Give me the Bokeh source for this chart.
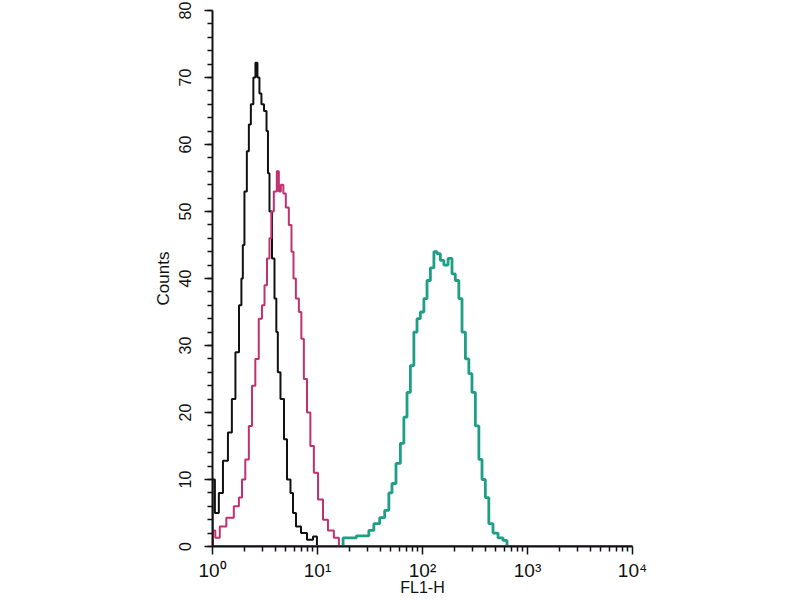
from bokeh.plotting import figure
from bokeh.models import FixedTicker
from bokeh.embed import file_html
from bokeh.resources import INLINE

# FL1-H channel intensity and counts
black_fl1 = [1.0, 1.0, 1.11, 1.19, 1.33, 1.48, 1.58, 1.73, 1.85, 1.92, 1.97, 2.06,
             2.19, 2.25, 2.39, 2.51, 2.62, 2.74, 2.86, 2.99, 3.20, 3.34, 3.41,
             3.57, 3.81, 3.98, 4.13, 4.25, 4.64, 4.96, 5.29, 5.78, 5.91, 6.59,
             7.36, 8.58, 9.57, 10.2, 10000]
black_counts = [0, 10, 5, 8, 12.8, 17, 22, 29, 36, 40, 45, 53,
                59, 63, 66, 70, 72.2, 70, 67.6, 66, 65, 62, 55.7,
                50, 43, 37, 32, 26, 22, 16, 10, 8, 5, 3,
                2, 1, 1.5, 0, 0]

magenta_fl1 = [1.0, 1.02, 1.11, 1.24, 1.48, 1.72, 1.85, 1.97, 2.14, 2.30, 2.46,
               2.66, 2.86, 3.06, 3.20, 3.41, 3.57, 3.70, 3.98, 4.22, 4.35, 4.61,
               4.85, 5.14, 5.53, 5.78, 6.04, 6.41, 6.89, 7.15, 7.69, 8.21, 8.91,
               9.57, 10.7, 11.9, 13.3, 15.4, 16.6, 10000]
magenta_counts = [0, 2.4, 1.3, 3, 4.3, 6, 7.3, 10, 13, 18, 24,
                  28, 34, 36, 39, 43, 46, 50, 53, 56, 53, 54,
                  52.7, 50.6, 48, 44, 40, 37, 35, 31, 25, 20, 15,
                  11, 7, 4, 2.4, 1.3, 0, 0]

teal_fl1 = [1.0, 16.6, 18.5, 29.7, 32.0, 37.0, 41.3, 46.1, 49.6, 52.9, 59.1,
            64.1, 68.9, 73.6, 79.8, 85.8, 91.6, 99.3, 107, 114, 124, 133,
            142, 154, 166, 185, 197, 214, 230, 246, 267, 286, 306, 332,
            357, 381, 413, 444, 496, 553, 617, 659, 10000]
teal_counts = [0, 0, 1.3, 1.6, 2.4, 3.4, 4.3, 5.4, 8, 9.4, 12.4,
               15.4, 19.3, 23, 27, 32, 34, 35, 37, 39.7, 41.6, 44,
               43.7, 42.7, 42, 43, 40.7, 39.7, 37, 32, 28, 25.8, 23, 18,
               13, 10, 7.3, 3.4, 2, 1.3, 0.9, 0, 0]

x_ticks = [1, 10, 100, 1000, 10000]
x_tick_labels = ["10\u2070", "10\u00b9", "10\u00b2", "10\u00b3", "10\u2074"]
y_ticks = [0, 10, 20, 30, 40, 50, 60, 70, 80]

FONT = "'Liberation Sans Narrow', 'Liberation Sans', Arial, sans-serif"

p = figure(width=784, height=600, x_axis_type="log",
           x_range=(1, 10000), y_range=(0, 80),
           output_backend="svg", toolbar_location=None, tools="",
           min_border_left=212, min_border_right=152,
           min_border_top=10, min_border_bottom=54)
p.outline_line_color = None
p.grid.grid_line_color = None
p.background_fill_color = "white"

p.step(black_fl1, black_counts, mode="center", line_color="#111111", line_width=2)
p.step(magenta_fl1, magenta_counts, mode="center", line_color="#c2306f", line_width=2)
p.step(teal_fl1, teal_counts, mode="center", line_color="#1f9e86", line_width=2.8)

minor_x = [m * d for d in [1, 10, 100, 1000] for m in range(2, 10)]
p.xaxis.ticker = FixedTicker(ticks=x_ticks, minor_ticks=minor_x)
p.xaxis.major_label_overrides = {t: s for t, s in zip(x_ticks, x_tick_labels)}
p.xaxis.axis_label = "FL1-H"

p.yaxis.ticker = FixedTicker(ticks=y_ticks, minor_ticks=list(range(0, 81, 2)))
p.yaxis.axis_label = "Counts"
p.yaxis.major_label_orientation = "vertical"

for ax in [p.xaxis[0], p.yaxis[0]]:
    ax.axis_line_width = 2
    ax.axis_line_color = "#111111"
    ax.major_tick_line_color = "#111111"
    ax.minor_tick_line_color = "#111111"
    ax.major_tick_line_width = 1.5
    ax.minor_tick_line_width = 1.5
    ax.major_tick_in = 0
    ax.minor_tick_in = 0
    ax.major_tick_out = 8
    ax.minor_tick_out = 5
    ax.major_label_text_font = FONT
    ax.major_label_text_color = "#111111"
    ax.axis_label_text_font = FONT
    ax.axis_label_text_font_style = "normal"
    ax.axis_label_text_color = "#111111"

p.xaxis.major_label_text_font_size = "19px"
p.xaxis.axis_label_text_font_size = "16px"
p.xaxis.major_label_standoff = 5
p.xaxis.axis_label_standoff = -5

p.yaxis.major_label_text_font_size = "16px"
p.yaxis.axis_label_text_font_size = "17px"
p.yaxis.major_label_standoff = 14
p.yaxis.axis_label_standoff = 3

open("out.html", "w").write(file_html(p, INLINE))
